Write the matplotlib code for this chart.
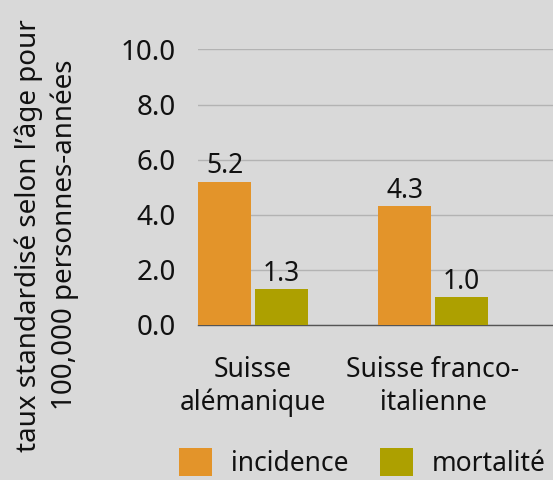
import numpy as np
import matplotlib
matplotlib.use('Agg')
import matplotlib.pyplot as plt
from matplotlib.patches import Patch

plt.rcParams['font.family'] = ['Noto Sans', 'DejaVu Sans']

regions = ['Suisse\nalémanique', 'Suisse franco-\nitalienne']
incidence = [5.2, 4.3]
mortalite = [1.3, 1.0]
series_names = ['incidence', 'mortalité']
colors = ['#e3942a', '#ada000']
bg = '#d9d9d9'
fs = 20

fig = plt.figure(figsize=(5.53, 4.8), dpi=100, facecolor=bg)
ax = fig.add_axes([0.358, 0.323, 0.642, 0.574], facecolor=bg)

x = np.arange(len(regions))
w = 0.294
off = 0.158
b1 = ax.bar(x - off, incidence, w, color=colors[0], zorder=3)
b2 = ax.bar(x + off, mortalite, w, color=colors[1], zorder=3)

for bars, vals in [(b1, incidence), (b2, mortalite)]:
    for r, v in zip(bars, vals):
        ax.annotate('%.1f' % v, (r.get_x() + r.get_width() / 2, v),
                    xytext=(0, 1), textcoords='offset points',
                    ha='center', va='bottom', fontsize=fs - 1, color='#111111', zorder=4)

ax.set_xlim(-0.3056, 1.667)
ax.set_ylim(0, 10)
ax.set_yticks([0, 2, 4, 6, 8, 10])
ax.set_yticklabels(['%.1f' % t for t in [0, 2, 4, 6, 8, 10]], fontsize=fs)
ax.yaxis.grid(True, color='#b3b3b3', linewidth=1, zorder=0)
ax.set_axisbelow(True)
ax.tick_params(axis='y', length=0, pad=16, colors='#111111')
ax.tick_params(axis='x', length=0, pad=22)
ax.set_xticks(x)
ax.set_xticklabels(regions, fontsize=fs - 1, color='#111111', linespacing=1.25)
for s in ['top', 'right', 'left']:
    ax.spines[s].set_visible(False)
ax.spines['bottom'].set_color('#555555')
ax.spines['bottom'].set_linewidth(1)

fig.text(0.084, 0.51, 'taux standardisé selon l\u2019âge pour\n100,000 personnes-années',
         rotation=90, ha='center', va='center', fontsize=fs, color='#111111',
         linespacing=1.35)

handles = [Patch(facecolor=c, label=n) for c, n in zip(colors, series_names)]
fig.legend(handles=handles, loc='center', bbox_to_anchor=(0.655, 0.036), ncol=2,
           frameon=False, fontsize=fs - 1, handlelength=1.25, handleheight=1.25,
           columnspacing=1.2, handletextpad=0.7, labelcolor='#111111',
           borderpad=0, borderaxespad=0)

fig.savefig('out.png', dpi=100, facecolor=bg)
